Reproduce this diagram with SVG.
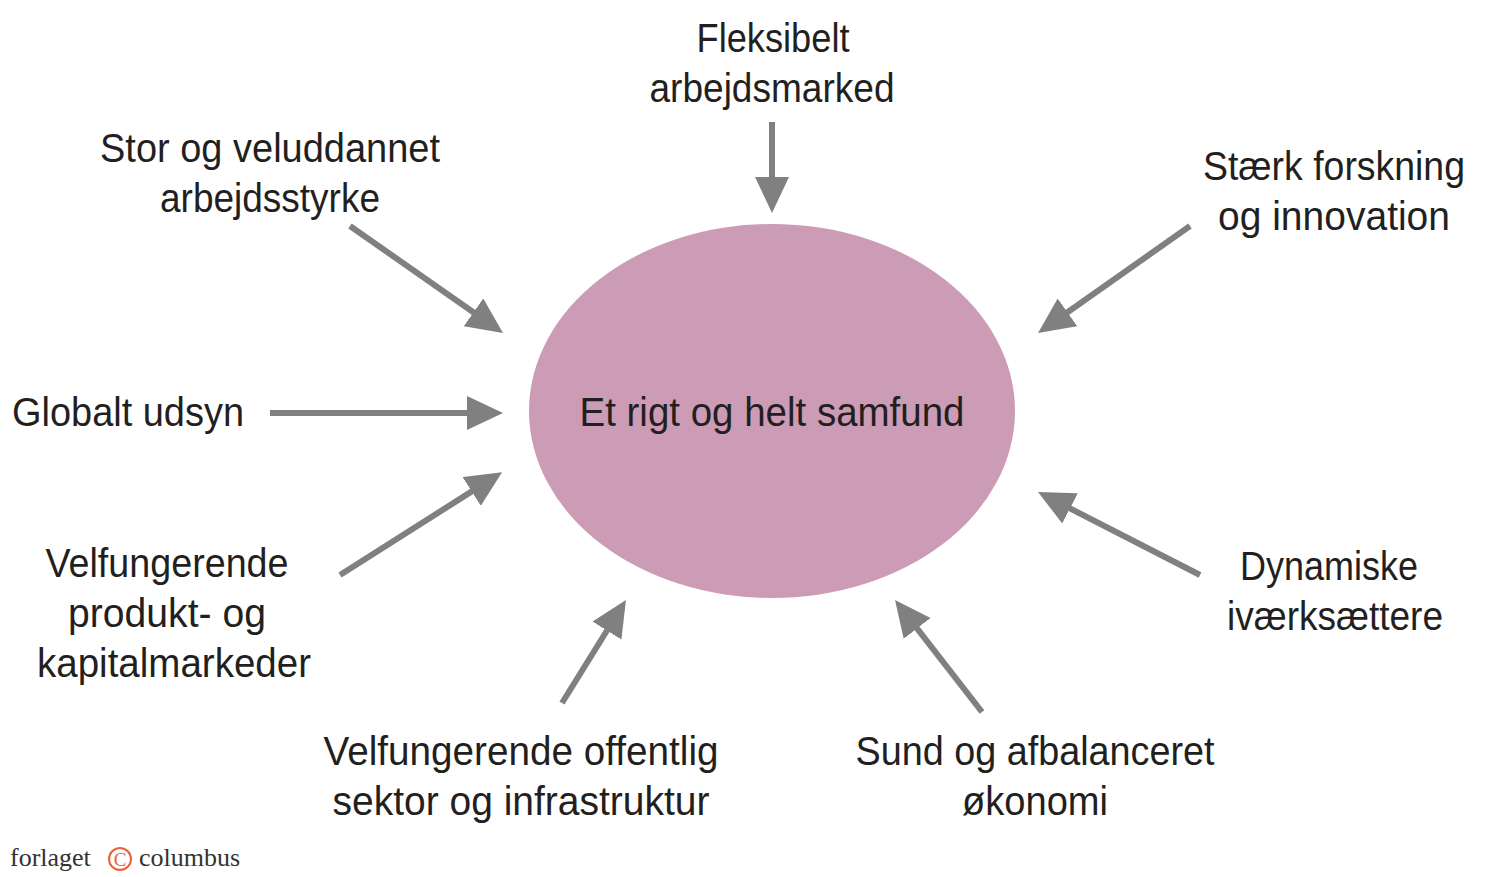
<svg xmlns="http://www.w3.org/2000/svg" width="1500" height="877" viewBox="0 0 1500 877">
<style>
.t{font-family:"Liberation Sans",Arial,sans-serif;font-size:40px;fill:#231f20;text-anchor:middle}
.c{stroke:#808080;stroke-width:6;fill:none;marker-end:url(#ah)}
.logo{font-family:"Liberation Serif","DejaVu Serif",serif;font-size:26px;fill:#333}
</style>
<defs>
<marker id="ah" markerUnits="userSpaceOnUse" markerWidth="40" markerHeight="40" refX="16" refY="17" orient="auto">
<path d="M0,0 L36,17 L0,34 Z" fill="#808080"/>
</marker>
</defs>
<rect width="1500" height="877" fill="#fff"/>
<g id="center"><ellipse cx="772" cy="411" rx="243" ry="187" fill="#cc9bb5"/>
<text class="t" x="772" y="426" textLength="385" lengthAdjust="spacingAndGlyphs">Et rigt og helt samfund</text></g>
<g id="connectors">
<line class="c" x1="772" y1="122" x2="772" y2="193"/>
<line class="c" x1="350" y1="226" x2="486.6" y2="321.5"/>
<line class="c" x1="270" y1="413" x2="483" y2="413"/>
<line class="c" x1="340" y1="575" x2="485.2" y2="482.9"/>
<line class="c" x1="562" y1="703" x2="615.4" y2="617"/>
<line class="c" x1="982" y1="712" x2="907.3" y2="615.8"/>
<line class="c" x1="1200" y1="575" x2="1055.8" y2="501.1"/>
<line class="c" x1="1190" y1="226" x2="1054.4" y2="321.5"/>
</g>
<g id="n1"><text class="t" x="773" y="52" textLength="153" lengthAdjust="spacingAndGlyphs">Fleksibelt</text><text class="t" x="772" y="102" textLength="245" lengthAdjust="spacingAndGlyphs">arbejdsmarked</text></g>
<g id="n2"><text class="t" x="270" y="162" textLength="340" lengthAdjust="spacingAndGlyphs">Stor og veluddannet</text><text class="t" x="270" y="212" textLength="220" lengthAdjust="spacingAndGlyphs">arbejdsstyrke</text></g>
<g id="n3"><text class="t" x="1334" y="180" textLength="262" lengthAdjust="spacingAndGlyphs">Stærk forskning</text><text class="t" x="1334" y="230" textLength="232" lengthAdjust="spacingAndGlyphs">og innovation</text></g>
<g id="n4"><text class="t" x="128" y="426" textLength="232" lengthAdjust="spacingAndGlyphs">Globalt udsyn</text></g>
<g id="n5"><text class="t" x="167" y="577" textLength="243" lengthAdjust="spacingAndGlyphs">Velfungerende</text><text class="t" x="167" y="627" textLength="198" lengthAdjust="spacingAndGlyphs">produkt- og</text><text class="t" x="174" y="677" textLength="274" lengthAdjust="spacingAndGlyphs">kapitalmarkeder</text></g>
<g id="n6"><text class="t" x="521" y="765" textLength="395" lengthAdjust="spacingAndGlyphs">Velfungerende offentlig</text><text class="t" x="521" y="815" textLength="377" lengthAdjust="spacingAndGlyphs">sektor og infrastruktur</text></g>
<g id="n7"><text class="t" x="1035" y="765" textLength="359" lengthAdjust="spacingAndGlyphs">Sund og afbalanceret</text><text class="t" x="1035" y="815" textLength="146" lengthAdjust="spacingAndGlyphs">økonomi</text></g>
<g id="n8"><text class="t" x="1329" y="580" textLength="178" lengthAdjust="spacingAndGlyphs">Dynamiske</text><text class="t" x="1335" y="630" textLength="216" lengthAdjust="spacingAndGlyphs">iværksættere</text></g>
<g id="logo">
<text class="logo" x="10" y="866">forlaget</text>
<circle cx="120" cy="859" r="11" fill="none" stroke="#e8603c" stroke-width="2"/>
<text x="120" y="866" font-family="Liberation Serif,serif" font-size="19" fill="#e8603c" text-anchor="middle">C</text>
<text class="logo" x="139" y="866">columbus</text>
</g>
</svg>
